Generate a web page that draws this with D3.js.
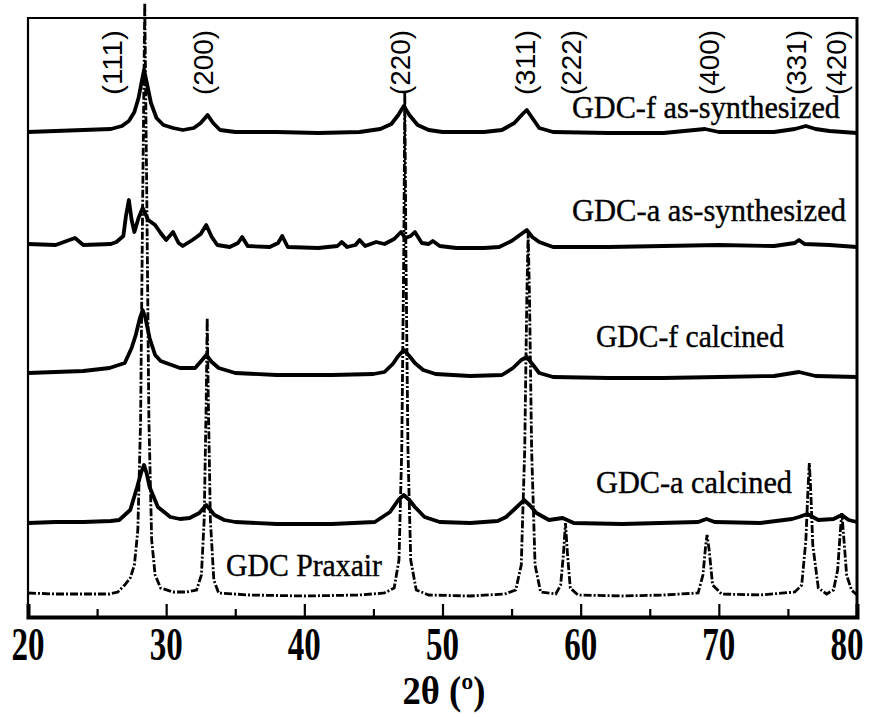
<!DOCTYPE html>
<html>
<head>
<meta charset="utf-8">
<script src="https://cdn.jsdelivr.net/npm/d3@7"></script>
<style>
  body { margin: 0; background: #fff; }
  svg { display: block; }
</style>
</head>
<body>
<script>
// 2theta / intensity (a.u., offsets already in)
var gdcFAs = [[20,486],[22,487],[24,488],[26,489],[26.8,492],[27.3,497],[27.7,506],[28,520],[28.25,538],[28.4,548],[28.6,535],[28.9,515],[29.3,500],[29.8,493],[30.5,490],[31.2,488],[32,490],[32.5,495],[33,503],[33.4,495],[33.9,488],[35,486],[38,486],[41,485],[44,486],[45.5,489],[46.3,494],[46.8,503],[47.2,512],[47.6,503],[48.2,493],[49,488],[50,486],[53,486],[54.3,488],[55.2,495],[55.8,504],[56.1,508],[56.5,500],[57,490],[58,486],[62,485],[66,485],[69,489],[70,486],[74,486],[75.5,489],[76.3,492],[77,489],[78,487],[80,485]];
var gdcAAs = [[20,374],[22,373],[23.4,380],[24,373],[26,374],[26.4,376],[26.9,382],[27.1,403],[27.3,418],[27.5,398],[27.7,386],[28,400],[28.3,410],[28.7,398],[29.2,393],[29.6,385],[30,378],[30.5,386],[30.9,375],[31.2,372],[31.9,378],[32.5,384],[32.9,393],[33.3,381],[33.7,373],[34.6,371],[35.2,375],[35.5,381],[35.9,372],[37.5,371],[38.1,375],[38.4,382],[38.8,371],[41,370],[42.4,372],[42.7,376],[43.1,371],[43.7,373],[44,378],[44.4,372],[45.2,376],[45.8,374],[46.5,379],[47,386],[47.3,380],[47.7,382],[48,386],[48.5,375],[49,374],[49.3,377],[49.8,372],[51,370],[53,370],[54.1,371],[55,377],[55.6,383],[56.1,388],[56.5,381],[57,376],[58,371],[62,371],[66,372],[70,373],[74,372],[75.5,375],[75.8,378],[76.2,374],[78,373],[80,371]];
var gdcFCal = [[20,245],[22,246],[24,247],[25.9,250],[27,255],[27.5,270],[27.8,283],[28.1,300],[28.3,308],[28.5,300],[28.8,280],[29.2,263],[29.6,257],[30.2,254],[31,250],[32.1,250],[32.6,258],[32.9,263],[33.3,256],[33.8,250],[35,245],[38,243],[42,243],[45,244],[45.8,246],[46.4,254],[46.8,262],[47.2,268],[47.6,262],[48,255],[48.6,248],[49.5,244],[52,242],[54.3,243],[55.1,250],[55.7,258],[56.1,261],[56.5,254],[57,245],[58,241],[62,240],[66,240],[70,241],[74,242],[75.8,246],[77,242],[80,241]];
var gdcACal = [[20,95],[22,96],[24,96],[26,97],[26.6,98],[27.4,108],[27.9,131],[28.2,146],[28.4,153],[28.6,144],[28.8,131],[29.4,111],[30.3,101],[31,99],[31.7,100],[32.4,105],[32.9,113],[33.5,103],[34.2,98],[35,96],[38,94],[42,94],[45.1,96],[46.2,106],[46.8,118],[47.2,123],[47.6,118],[48,111],[48.7,101],[49.8,96],[52,95],[54,97],[54.6,101],[55.3,110],[55.9,118],[56.3,113],[56.8,105],[57.7,98],[58.7,100],[59.5,95],[63,94],[68.5,96],[69.1,99],[69.7,96],[73,95],[75.3,99],[75.8,101],[76.4,104],[77.2,98],[78.3,99],[78.9,103],[79.4,98],[80,96]];
var praxair = [[20,25],[22,24],[24,24],[25.9,24],[26.5,26],[27,33],[27.4,40],[27.7,53],[27.95,88],[28.15,198],[28.3,418],[28.45,615],[28.6,418],[28.75,198],[28.95,78],[29.2,43],[29.6,30],[30.5,26],[31.5,26],[32.2,28],[32.55,43],[32.75,98],[32.9,218],[32.97,300],[33.05,218],[33.2,98],[33.45,38],[33.8,25],[36,23],[40,22],[44,23],[45.8,25],[46.5,30],[46.85,58],[47.05,168],[47.2,368],[47.27,526],[47.35,368],[47.5,168],[47.7,58],[48.1,28],[49,23],[52,22],[54.5,24],[55.3,28],[55.7,53],[55.95,168],[56.1,318],[56.2,386],[56.3,318],[56.45,168],[56.7,53],[57.1,26],[58.2,24],[58.55,33],[58.75,63],[58.9,95],[59.05,63],[59.25,30],[59.8,23],[63,22],[66,23],[68.5,25],[68.85,43],[69.05,73],[69.15,83],[69.3,68],[69.55,33],[70.2,24],[73,23],[75.5,26],[76,33],[76.3,78],[76.45,128],[76.55,155],[76.65,128],[76.8,73],[77.2,30],[77.8,24],[78.3,28],[78.6,48],[78.8,88],[78.9,105],[79,88],[79.25,43],[79.6,28],[80,23]];

var hklLabels = ['(111)','(200)','(220)','(311)','(222)','(400)','(331)','(420)'];
var hklAt = [26.1, 32.65, 46.95, 55.95, 59.3, 69.3, 75.6, 78.45];

var seriesNames = ['GDC-f as-synthesized','GDC-a as-synthesized','GDC-f calcined','GDC-a calcined','GDC Praxair'];

var xMajor = [20,30,40,50,60,70,80];
var xMinor = [25,35,45,55,65,75];

var width = 881, height = 717;

var svg = d3.select('body').append('svg').attr('width', width).attr('height', height);

var x = d3.scaleLinear().domain([20, 80]).range([28, 857]);
var y = d3.scaleLinear().domain([0, 600]).range([618, 18]);

var line = d3.line()
  .x(function (d) { return x(d[0]); })
  .y(function (d) { return y(d[1]); });

// patterns
var solid = [gdcFAs, gdcAAs, gdcFCal, gdcACal];
solid.forEach(function (s) {
  svg.append('path').datum(s)
    .attr('d', line)
    .attr('fill', 'none')
    .attr('stroke', '#000')
    .attr('stroke-width', 3.8)
    .attr('stroke-linejoin', 'round');
});

svg.append('path').datum(praxair)
  .attr('d', line)
  .attr('fill', 'none')
  .attr('stroke', '#000')
  .attr('stroke-width', 2.8)
  .attr('stroke-dasharray', '8,2,2,2');

// frame
svg.append('line').attr('x1', 28).attr('x2', 28).attr('y1', 17).attr('y2', 619).attr('stroke', '#000').attr('stroke-width', 2.2);
svg.append('line').attr('x1', 27).attr('x2', 858).attr('y1', 18).attr('y2', 18).attr('stroke', '#000').attr('stroke-width', 2);
svg.append('line').attr('x1', 857).attr('x2', 857).attr('y1', 17).attr('y2', 619).attr('stroke', '#000').attr('stroke-width', 3);

// x axis, ticks pointing inwards
svg.append('g').attr('transform', 'translate(0,617)')
  .call(d3.axisBottom(x).tickValues(xMajor).tickSize(-13).tickFormat(''))
  .call(function (g) {
    g.select('.domain').attr('stroke-width', 4);
    g.selectAll('.tick line').attr('stroke-width', 2.2);
  });
svg.append('g').attr('transform', 'translate(0,617)')
  .call(d3.axisBottom(x).tickValues(xMinor).tickSize(-8).tickFormat(''))
  .call(function (g) {
    g.select('.domain').remove();
    g.selectAll('.tick line').attr('stroke-width', 2.2);
  });

svg.selectAll('.xlab').data(xMajor).enter().append('text')
  .attr('class', 'xlab')
  .attr('x', function (d) { return Math.min(x(d), 847); })
  .attr('y', 660)
  .attr('text-anchor', 'middle')
  .attr('font-family', 'Liberation Serif, Times New Roman, serif')
  .attr('font-weight', 'bold')
  .attr('font-size', 46)
  .attr('textLength', 33)
  .attr('lengthAdjust', 'spacingAndGlyphs')
  .text(function (d) { return d; });

svg.append('text')
  .attr('x', 444).attr('y', 704)
  .attr('text-anchor', 'middle')
  .attr('font-family', 'Liberation Serif, Times New Roman, serif')
  .attr('font-weight', 'bold')
  .attr('font-size', 40)
  .attr('textLength', 83)
  .attr('lengthAdjust', 'spacingAndGlyphs')
  .text('2θ (º)');

// hkl labels
svg.selectAll('.hkl').data(hklLabels).enter().append('text')
  .attr('class', 'hkl')
  .attr('transform', function (d, i) { return 'translate(' + x(hklAt[i]) + ',95) rotate(-90)'; })
  .attr('dy', '0.36em')
  .attr('font-family', 'Liberation Sans, Arial, sans-serif')
  .attr('font-size', 28)
  .attr('textLength', 65)
  .attr('lengthAdjust', 'spacingAndGlyphs')
  .text(function (d) { return d; });

// series names
var namePos = [[572, 118, 268], [572, 221, 274], [596, 347, 188], [596, 493, 196], [226, 576, 156]];
svg.selectAll('.sname').data(seriesNames).enter().append('text')
  .attr('class', 'sname')
  .attr('x', function (d, i) { return namePos[i][0]; })
  .attr('y', function (d, i) { return namePos[i][1]; })
  .attr('textLength', function (d, i) { return namePos[i][2]; })
  .attr('lengthAdjust', 'spacingAndGlyphs')
  .attr('font-family', 'Liberation Serif, Times New Roman, serif')
  .attr('font-size', 32)
  .attr('stroke', '#000')
  .attr('stroke-width', 0.4)
  .text(function (d) { return d; });
</script>
</body>
</html>
